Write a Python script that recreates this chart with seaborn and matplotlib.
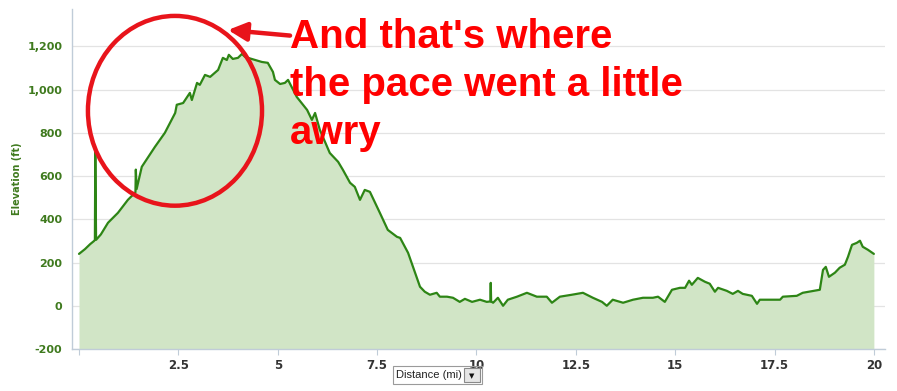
import matplotlib
matplotlib.use("Agg")
import matplotlib.pyplot as plt
import seaborn as sns
import pandas as pd
from matplotlib.patches import Ellipse, Rectangle

# ---- data ----
distance_mi = [0.0, 0.15, 0.28, 0.38, 0.40, 0.41, 0.43, 0.55, 0.73, 0.98, 1.23, 1.38,
               1.42, 1.43, 1.45, 1.58, 1.91, 2.16, 2.42, 2.46, 2.62, 2.79, 2.84, 2.97,
               3.04, 3.17, 3.30, 3.50, 3.62, 3.72, 3.77, 3.87, 4.00, 4.10, 4.18, 4.43,
               4.60, 4.75, 4.88, 4.93, 5.06, 5.18, 5.26, 5.48, 5.74, 5.86, 5.94, 6.06,
               6.31, 6.52, 6.64, 6.82, 6.94, 7.07, 7.19, 7.32, 7.57, 7.77, 8.00, 8.08,
               8.28, 8.58, 8.70, 8.83, 9.00, 9.08, 9.26, 9.41, 9.58, 9.71, 9.89, 10.09,
               10.26, 10.35, 10.36, 10.37, 10.42, 10.54, 10.67, 10.79, 11.02, 11.27,
               11.52, 11.77, 11.90, 12.10, 12.40, 12.68, 12.93, 13.16, 13.28, 13.43,
               13.69, 13.94, 14.19, 14.44, 14.57, 14.74, 14.92, 15.12, 15.25, 15.35,
               15.42, 15.57, 15.75, 15.87, 16.00, 16.08, 16.30, 16.45, 16.58, 16.70,
               16.93, 17.06, 17.13, 17.64, 17.71, 18.06, 18.21, 18.64, 18.72, 18.79,
               18.87, 19.02, 19.14, 19.27, 19.35, 19.45, 19.57, 19.65, 19.72, 19.85,
               20.0]
elevation_ft = [240, 262, 285, 300, 305, 710, 305, 330, 384, 430, 490, 518,
                525, 630, 540, 643, 735, 800, 892, 930, 938, 985, 952, 1031,
                1022, 1068, 1059, 1091, 1147, 1137, 1161, 1142, 1147, 1165, 1151, 1137,
                1128, 1124, 1082, 1045, 1026, 1031, 1045, 966, 906, 860, 892, 814,
                707, 666, 629, 569, 550, 490, 536, 527, 430, 351, 319, 314,
                245, 88, 65, 51, 60, 42, 42, 37, 18, 32, 18, 28,
                18, 20, 106, 20, 14, 37, 0, 28, 42, 60,
                42, 42, 14, 42, 51, 60, 37, 18, 0, 28,
                14, 28, 37, 37, 42, 18, 74, 83, 83, 116,
                97, 129, 111, 102, 65, 83, 69, 55, 69, 55,
                46, 9, 28, 28, 42, 46, 60, 74, 166, 180,
                134, 153, 176, 190, 227, 282, 291, 301, 273, 259,
                240]
x_ticks = [0, 2.5, 5, 7.5, 10, 12.5, 15, 17.5, 20]
x_tick_labels = ["", "2.5", "5", "7.5", "10", "12.5", "15", "17.5", "20"]
y_ticks = [-200, 0, 200, 400, 600, 800, 1000, 1200]
y_tick_labels = ["-200", "0", "200", "400", "600", "800", "1,000", "1,200"]
annotation_text = "And that's where\nthe pace went a little\nawry"

df = pd.DataFrame({"distance": distance_mi, "elevation": elevation_ft})

sns.set_theme(style="white")
plt.rcParams["font.family"] = ["DejaVu Sans"]

W, H = 897, 391
fig = plt.figure(figsize=(W / 100, H / 100), dpi=100)
ax = fig.add_axes([72 / W, 1 - 349 / H, (885 - 72) / W, (349 - 9) / H])

line_col = "#2d8515"
fill_col = "#d1e5c6"
ax.fill_between(df["distance"], df["elevation"], -200, color=fill_col, lw=0, zorder=1)
sns.lineplot(data=df, x="distance", y="elevation", ax=ax, color=line_col,
             lw=1.6, sort=False, zorder=3)

ax.set_xlim(-0.176, 20.28)
ax.set_ylim(-200, 1373)
ax.set_yticks(y_ticks)
ax.set_yticklabels(y_tick_labels)
ax.set_xticks(x_ticks)
ax.set_xticklabels(x_tick_labels)
ax.grid(axis="y", color="#e3e3e3", lw=0.9, zorder=0)
ax.grid(axis="x", visible=False)
for s in ["top", "right"]:
    ax.spines[s].set_visible(False)
for s in ["left", "bottom"]:
    ax.spines[s].set_color("#c0ccd8")
    ax.spines[s].set_linewidth(1.0)
ax.tick_params(axis="y", length=0, pad=7, labelsize=8, labelcolor="#3f7a1e")
ax.tick_params(axis="x", length=4, width=0.8, color="#c0ccd8", direction="out",
               pad=3, labelsize=8.5, labelcolor="#333333", bottom=True)
for lab in ax.get_yticklabels() + ax.get_xticklabels():
    lab.set_fontweight("bold")
ax.set_xlabel("")
ax.set_ylabel("Elevation (ft)", fontsize=7, fontweight="bold", color="#3f7a1e", labelpad=4)

# red circle annotation
ell = Ellipse((2.415, 902), width=4.38, height=878, fill=False, edgecolor="#e8141b",
              lw=3.2, zorder=5, clip_on=False)
ax.add_patch(ell)
ax.annotate("", xy=(3.75, 1276), xytext=(5.31, 1250),
            arrowprops=dict(arrowstyle="-|>", color="#e8141b", lw=3.2,
                            mutation_scale=28, shrinkA=0, shrinkB=0),
            zorder=6, annotation_clip=False)
fig.text(290 / W, 1 - 18 / H, annotation_text, ha="left", va="top",
         fontsize=29, fontweight="bold", color="#ff0000", linespacing=1.33,
         family=["Liberation Sans", "DejaVu Sans"])

# "Distance (mi)" dropdown
fig.text(396 / W, 1 - 375 / H, "Distance (mi)", ha="left", va="center", fontsize=8,
         color="#222222", family=["Liberation Sans", "DejaVu Sans"])
fig.patches.append(Rectangle((393 / W, 1 - 384 / H), 89 / W, 18 / H, transform=fig.transFigure,
                             fill=False, edgecolor="#9a9a9a", lw=0.8))
fig.patches.append(Rectangle((464 / W, 1 - 382 / H), 16 / W, 14 / H, transform=fig.transFigure,
                             facecolor="#e6e6e6", edgecolor="#8a8a8a", lw=0.8))
fig.text(472 / W, 1 - 376 / H, "▼", ha="center", va="center", fontsize=5, color="#111111")

fig.savefig("out.png", dpi=100, facecolor="white")
